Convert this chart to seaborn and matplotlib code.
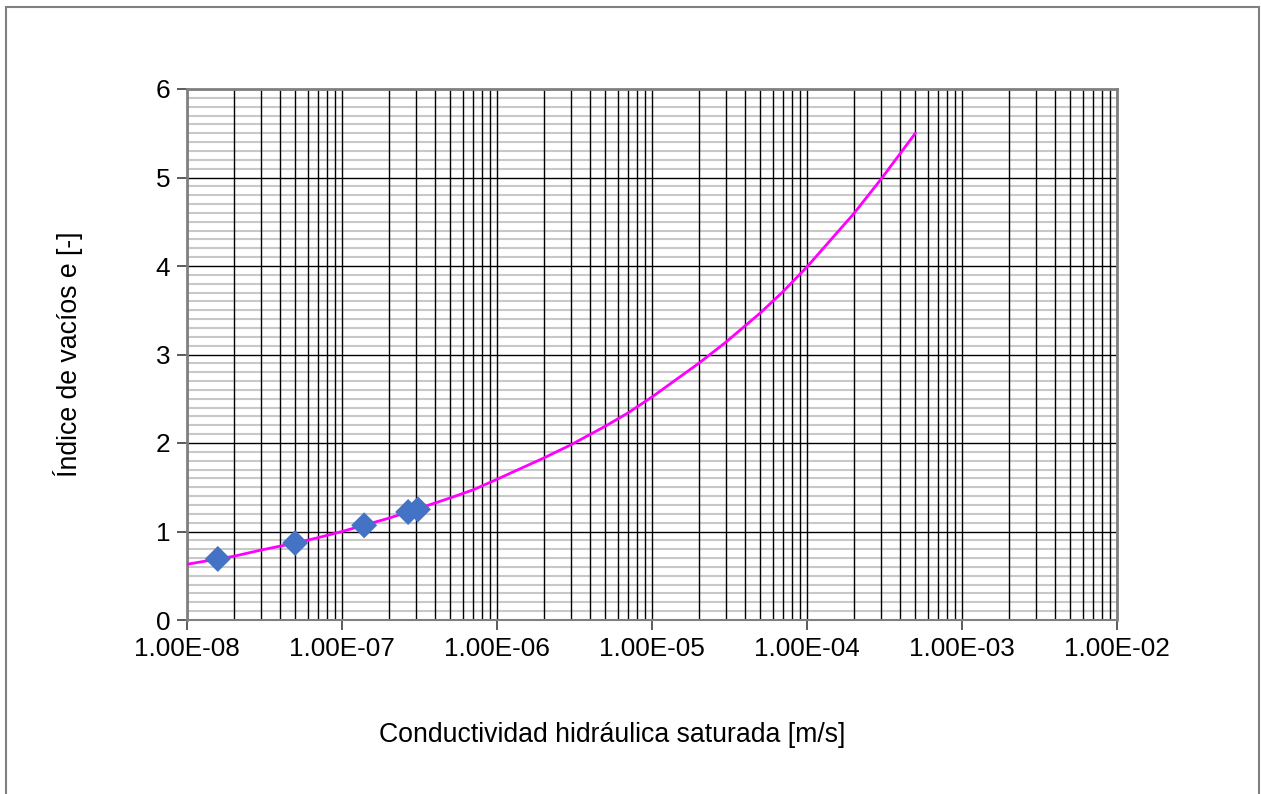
import matplotlib
matplotlib.use("Agg")
import matplotlib.pyplot as plt
import matplotlib.ticker as mticker
from matplotlib.patches import Rectangle
import numpy as np
import pandas as pd
import seaborn as sns

# Trend curve
curve_k = [1e-8, 2e-8, 3e-8, 5e-8, 7e-8,
           1e-7, 2e-7, 3e-7, 5e-7, 7e-7,
           1e-6, 2e-6, 3e-6, 5e-6, 7e-6,
           1e-5, 2e-5, 3e-5, 5e-5, 7e-5,
           1e-4, 2e-4, 3e-4, 5e-4]
curve_e = [0.63, 0.72, 0.79, 0.87, 0.93,
           1.00, 1.15, 1.25, 1.38, 1.47,
           1.59, 1.83, 1.98, 2.19, 2.34,
           2.52, 2.90, 3.14, 3.47, 3.71,
           3.99, 4.59, 4.98, 5.50]

# Measured points
pts_k = [1.58e-8, 4.98e-8, 1.39e-7, 2.67e-7, 3.09e-7]
pts_e = [0.69, 0.87, 1.07, 1.22, 1.25]

x_ticks = [1e-8, 1e-7, 1e-6, 1e-5, 1e-4, 1e-3, 1e-2]
x_labels = ["1.00E-08", "1.00E-07", "1.00E-06", "1.00E-05",
            "1.00E-04", "1.00E-03", "1.00E-02"]
y_ticks = [0, 1, 2, 3, 4, 5, 6]

sns.set_theme(style="white")
plt.rcParams['font.family'] = ['Liberation Sans', 'DejaVu Sans']

fig = plt.figure(figsize=(12.61, 7.94), dpi=100)
fig.patch.set_facecolor("white")
fig.patches.append(Rectangle((5.5 / 1261, -0.1), (1259 - 5.5) / 1261, 1.1 - 7.5 / 794,
                             transform=fig.transFigure, fill=False,
                             edgecolor="#808080", linewidth=1.5))

ax = fig.add_axes([187 / 1261, 1 - 620 / 794, (1117 - 187) / 1261, (620 - 89) / 794])

df_curve = pd.DataFrame({"k": curve_k, "e": curve_e})
df_pts = pd.DataFrame({"k": pts_k, "e": pts_e})

ax.set_xscale("log")

sns.lineplot(data=df_curve, x="k", y="e", ax=ax, color="#FF00FF", linewidth=2.0,
             zorder=3)
sns.scatterplot(data=df_pts, x="k", y="e", ax=ax, marker="D", s=175,
                color="#4472C4", edgecolor="none", linewidth=0, zorder=4)

ax.set_xlim(1e-8, 1e-2)
ax.set_ylim(0, 6)
ax.set_xticks(x_ticks)
ax.set_xticklabels(x_labels)
ax.xaxis.set_minor_locator(mticker.LogLocator(base=10, subs=np.arange(2, 10), numticks=100))
ax.xaxis.set_minor_formatter(mticker.NullFormatter())
ax.set_yticks(y_ticks)
ax.yaxis.set_minor_locator(mticker.MultipleLocator(0.1))

ax.grid(True, which="minor", axis="y", color="#c8c8c8", linewidth=1.5)
ax.grid(True, which="major", axis="y", color="black", linewidth=1.0)
ax.grid(True, which="both", axis="x", color="black", linewidth=1.0)
ax.set_axisbelow(True)
ax.yaxis.set_zorder(0.5)
ax.xaxis.set_zorder(0.7)

for side in ["left", "top", "right"]:
    ax.spines[side].set_color("#808080")
    ax.spines[side].set_linewidth(2)
    ax.spines[side].set_visible(True)
ax.spines["bottom"].set_color("#808080")
ax.spines["bottom"].set_linewidth(1.5)
ax.spines["bottom"].set_visible(True)

ax.tick_params(axis="both", which="major", direction="out", length=7, width=1.2,
               color="#404040", labelsize=18.8, labelcolor="black", pad=5,
               bottom=True, left=True)
ax.tick_params(axis="both", which="minor", length=0)

ax.set_xlabel("Conductividad hidráulica saturada [m/s]", fontsize=19.2, color="black")
ax.xaxis.set_label_coords(0.457, -0.192)
ax.set_ylabel("Índice de vacíos e [-]", fontsize=19.2, color="black", labelpad=52)

fig.savefig("out.png", dpi=100, facecolor="white")
